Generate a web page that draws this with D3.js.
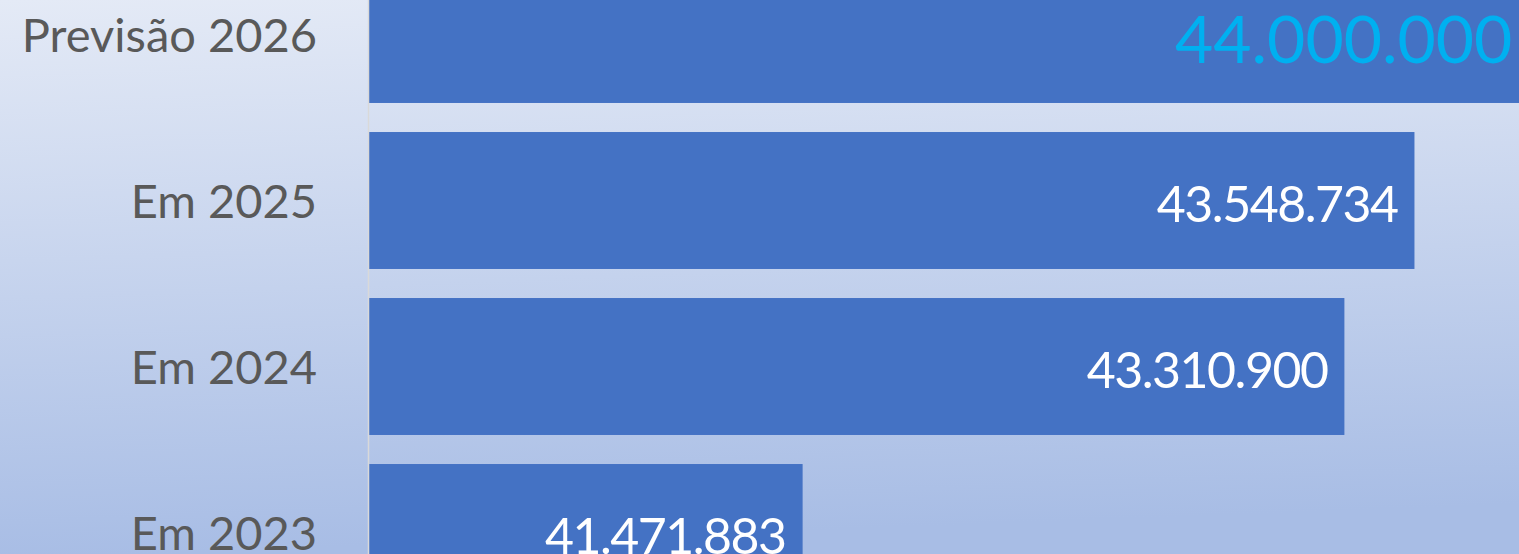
<!DOCTYPE html>
<html>
<head>
<meta charset="utf-8">
<script src="https://cdn.jsdelivr.net/npm/d3@7"></script>
<style>
	html, body { margin: 0; padding: 0; overflow: hidden; }
	svg { display: block; }
</style>
</head>
<body>
<div id="chart"></div>
<script>
// chart data
var categories = ["Previsão 2026", "Em 2025", "Em 2024", "Em 2023"];
var values = [44000000, 43548734, 43310900, 41471883];
var highlight = ["Previsão 2026"];

var width = 1519,
	height = 554;

// pt-BR number format: 43.548.734
var locale = d3.formatLocale({ decimal: ",", thousands: ".", grouping: [3], currency: ["R$", ""] });
var fmt = locale.format(",d");

var svg = d3.select("#chart")
	.append("svg")
	.attr("width", width)
	.attr("height", height);

// background gradient
var grad = svg.append("defs")
	.append("linearGradient")
	.attr("id", "bg")
	.attr("x1", "0%").attr("y1", "0%")
	.attr("x2", "10%").attr("y2", "100%");
grad.append("stop").attr("offset", "0%").attr("stop-color", "#e4eaf6");
grad.append("stop").attr("offset", "100%").attr("stop-color", "#a8bde5");

svg.append("rect")
	.attr("width", width)
	.attr("height", height)
	.attr("fill", "url(#bg)");

// scales (chart is cropped, axis runs past the right edge)
var x = d3.scaleLinear()
	.domain([40000000, 45000000])
	.range([369, 1842]);

var y = d3.scaleBand()
	.domain(categories)
	.range([-48.5, 615.5])
	.paddingInner(0.175)
	.paddingOuter(0.0875);

var rows = categories.map(function(c, i) { return { cat: c, val: values[i] }; });

svg.selectAll(".bar")
	.data(rows)
	.enter().append("rect")
	.attr("class", "bar")
	.attr("x", x(40000000))
	.attr("y", function(d) { return y(d.cat); })
	.attr("width", function(d) { return x(d.val) - x(40000000); })
	.attr("height", y.bandwidth())
	.attr("fill", "#4472c4");

// category axis
var yAxis = svg.append("g")
	.attr("transform", "translate(368,0)")
	.call(d3.axisLeft(y).tickSize(0).tickPadding(51));

yAxis.select(".domain")
	.attr("stroke", "#d9d9d9")
	.attr("stroke-width", 1.5);

yAxis.selectAll("text")
	.attr("dy", "0.37em")
	.attr("fill", "#595959")
	.style("font-family", "Lato, 'Open Sans', sans-serif")
	.style("font-size", "47px");

// value labels, inside end
svg.selectAll(".val")
	.data(rows)
	.enter().append("text")
	.attr("class", "val")
	.attr("text-anchor", "end")
	.attr("x", function(d) {
		return highlight.indexOf(d.cat) >= 0 ? x(d.val) - 35 : x(d.val) - 17;
	})
	.attr("y", function(d) {
		var off = highlight.indexOf(d.cat) >= 0 ? 28.5 : 21.5;
		return y(d.cat) + y.bandwidth() / 2 + off;
	})
	.attr("fill", function(d) { return highlight.indexOf(d.cat) >= 0 ? "#00b0f0" : "#ffffff"; })
	.style("font-family", "Lato, 'Open Sans', sans-serif")
	.style("font-size", function(d) { return highlight.indexOf(d.cat) >= 0 ? "66px" : "50px"; })
	.style("letter-spacing", function(d) { return highlight.indexOf(d.cat) >= 0 ? "0px" : "-1.5px"; })
	.text(function(d) { return fmt(d.val); });
</script>
</body>
</html>
